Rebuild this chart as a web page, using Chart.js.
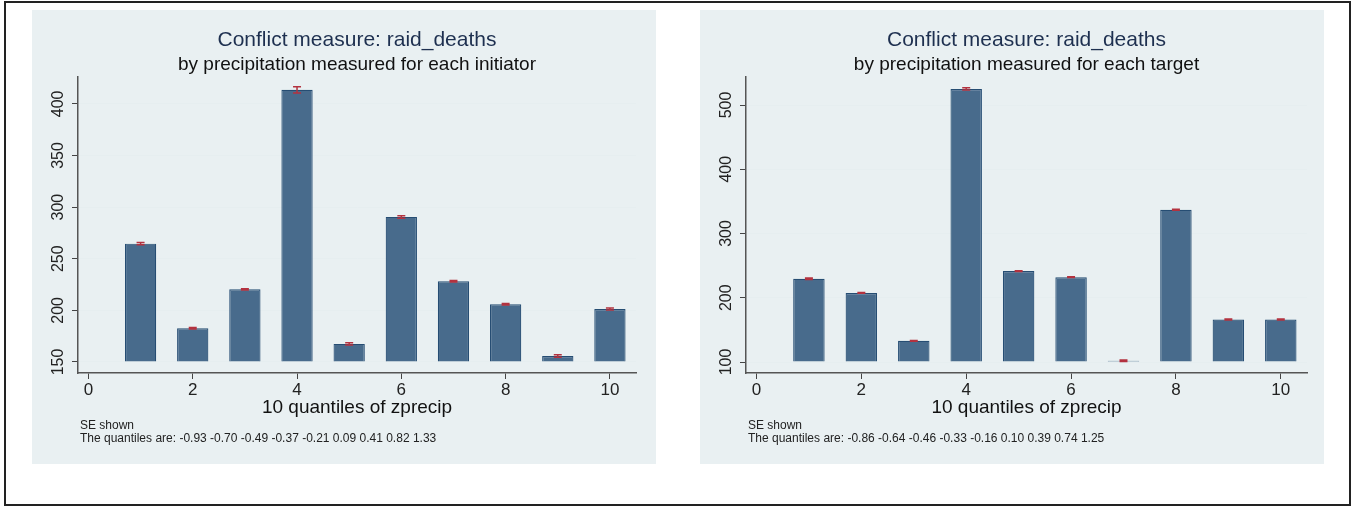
<!DOCTYPE html>
<html>
<head>
<meta charset="utf-8">
<script src="https://cdn.jsdelivr.net/npm/chart.js@4"></script>
<style>
  body { margin: 0; background: #fff; width: 1355px; height: 508px; position: relative; overflow: hidden; }
  .frame { position: absolute; left: 4px; top: 1px; width: 1347px; height: 505px; box-sizing: border-box; border: 2px solid #222; }
  .panel { position: absolute; top: 10px; width: 624px; height: 454px; background: #e9f0f2; }
  #panelA { left: 32px; }
  #panelB { left: 700px; }
</style>
</head>
<body>
<div class="frame"></div>
<div class="panel" id="panelA"><canvas id="chartA" width="624" height="454"></canvas></div>
<div class="panel" id="panelB"><canvas id="chartB" width="624" height="454"></canvas></div>
<script>
// decile positions on the x axis
const quantileBins = [1, 2, 3, 4, 5, 6, 7, 8, 9, 10];
const xTicks = [0, 2, 4, 6, 8, 10];

// mean raid deaths per decile, precipitation of the initiator
const initiatorMeans = [264.6, 182.6, 220.4, 413.6, 167.5, 290.5, 228.2, 205.9, 155.8, 201.2];
const initiatorSE = [1.2, 0.8, 0.6, 3.0, 1.2, 1.2, 0.8, 0.8, 1.2, 1.0];
const initiatorTicks = [150, 200, 250, 300, 350, 400];
const initiatorQuantiles = '-0.93 -0.70 -0.49 -0.37 -0.21 0.09 0.41 0.82 1.33';

// mean raid deaths per decile, precipitation of the target
const targetMeans = [229.5, 207.5, 133.0, 525.0, 241.5, 232.0, 102.0, 337.0, 166.0, 166.0];
const targetSE = [1.2, 0.6, 0.6, 1.8, 0.6, 0.6, 1.2, 0.6, 0.8, 0.8];
const targetTicks = [100, 200, 300, 400, 500];
const targetQuantiles = '-0.86 -0.64 -0.46 -0.33 -0.16 0.10 0.39 0.74 1.25';

Chart.defaults.font.family = 'Arial, "Liberation Sans", sans-serif';
Chart.defaults.color = '#222';

// red SE caps on top of each bar
const seBars = {
  id: 'seBars',
  afterDatasetsDraw(chart, args, opts) {
    const ctx = chart.ctx;
    const y = chart.scales.y;
    const bars = chart.getDatasetMeta(0).data;
    const vals = chart.data.datasets[0].data;
    ctx.save();
    ctx.strokeStyle = opts.color;
    ctx.lineWidth = 1.5;
    bars.forEach((bar, i) => {
      const v = vals[i].y, se = opts.se[i];
      const yTop = y.getPixelForValue(v + se);
      const yBot = y.getPixelForValue(v - se);
      ctx.beginPath();
      ctx.moveTo(bar.x, yTop); ctx.lineTo(bar.x, yBot);
      ctx.moveTo(bar.x - 4, yTop); ctx.lineTo(bar.x + 4, yTop);
      ctx.moveTo(bar.x - 4, yBot); ctx.lineTo(bar.x + 4, yBot);
      ctx.stroke();
    });
    ctx.restore();
  }
};

// footnote lines under the x axis title
const notes = {
  id: 'notes',
  afterDraw(chart, args, opts) {
    const ctx = chart.ctx;
    ctx.save();
    ctx.font = '12px Arial, "Liberation Sans", sans-serif';
    ctx.fillStyle = '#222';
    ctx.textBaseline = 'middle';
    opts.lines.forEach((t, i) => ctx.fillText(t, opts.x, opts.y + i * 13));
    ctx.restore();
  }
};

function makeChart(id, means, se, yTicks, yMin, yMax, base, subtitle, quantiles, padRight) {
  return new Chart(document.getElementById(id), {
    type: 'bar',
    data: {
      datasets: [{
        data: quantileBins.map((q, i) => ({ x: q, y: means[i] })),
        base: base,
        backgroundColor: '#486b8c',
        borderColor: '#264d73',
        borderWidth: 1.2,
        barPercentage: 0.6,
        categoryPercentage: 1.0
      }]
    },
    options: {
      responsive: false,
      animation: false,
      layout: { padding: { left: 0, right: padRight, top: 0, bottom: 41 } },
      plugins: {
        legend: { display: false },
        tooltip: { enabled: false },
        title: {
          display: true,
          fullSize: false,
          text: 'Conflict measure: raid_deaths',
          color: '#1e3050',
          font: { size: 21, weight: 'normal' },
          padding: { top: 18, bottom: 0 }
        },
        subtitle: {
          display: true,
          fullSize: false,
          text: subtitle,
          color: '#111',
          font: { size: 19 },
          padding: { top: 0, bottom: 1 }
        },
        seBars: { se: se, color: '#b3323f' },
        notes: { x: 48, y: 416, lines: ['SE shown', 'The quantiles are: ' + quantiles] }
      },
      scales: {
        x: {
          type: 'linear',
          offset: false,
          min: -0.2,
          max: 10.5,
          afterBuildTicks: s => { s.ticks = xTicks.map(v => ({ value: v })); },
          afterFit: s => { s.height = 50; },
          ticks: { font: { size: 17 }, color: '#222', padding: 1 },
          grid: { offset: false, drawOnChartArea: false, tickLength: 6, tickColor: '#444' },
          border: { color: '#555', width: 1.5 },
          title: {
            display: true,
            text: '10 quantiles of zprecip',
            font: { size: 19 },
            color: '#111',
            padding: { top: 0, bottom: 4 }
          }
        },
        y: {
          min: yMin,
          max: yMax,
          afterBuildTicks: s => { s.ticks = yTicks.map(v => ({ value: v })); },
          afterFit: s => { s.width = 46; },
          ticks: { font: { size: 16 }, color: '#222', minRotation: 90, maxRotation: 90, crossAlign: 'center', padding: 0 },
          grid: { color: '#e6eef0', lineWidth: 1, tickLength: 6, tickColor: '#444' },
          border: { color: '#555', width: 1.5 }
        }
      }
    },
    plugins: [seBars, notes]
  });
}

makeChart('chartA', initiatorMeans, initiatorSE, initiatorTicks, 139.3, 426, 150,
  'by precipitation measured for each initiator', initiatorQuantiles, 20);
makeChart('chartB', targetMeans, targetSE, targetTicks, 82.9, 543.6, 100,
  'by precipitation measured for each target', targetQuantiles, 17);
</script>
</body>
</html>
